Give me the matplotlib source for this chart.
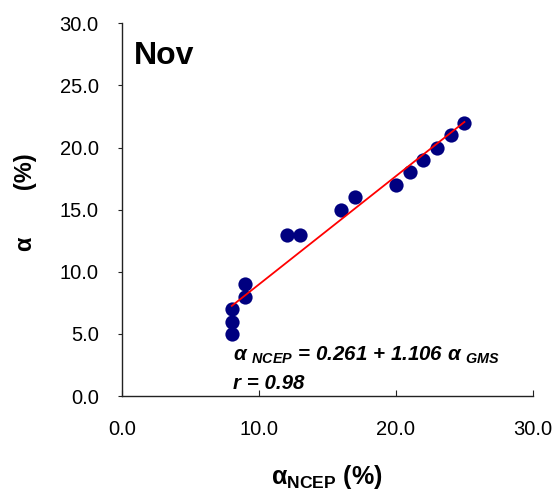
import numpy as np
import matplotlib
matplotlib.use('Agg')
import matplotlib.pyplot as plt

plt.rcParams['font.family'] = ['Liberation Sans', 'DejaVu Sans']
plt.rcParams['mathtext.fontset'] = 'custom'
plt.rcParams['mathtext.rm'] = 'Liberation Sans:bold'
plt.rcParams['mathtext.it'] = 'Liberation Sans:italic:bold'
plt.rcParams['mathtext.bf'] = 'Liberation Sans:bold'

# data
alpha_gms = [8, 8, 8, 9, 9, 12, 13, 16, 17, 20, 21, 22, 23, 24, 25]
alpha_ncep = [5, 6, 7, 8, 9, 13, 13, 15, 16, 17, 18, 19, 20, 21, 22]
ticks = [0, 10, 20, 30]
yticks = [0, 5, 10, 15, 20, 25, 30]

fig = plt.figure(figsize=(5.54, 4.92), dpi=100)
ax = fig.add_axes([0.2208, 0.195, 0.741, 0.7576])

# fit line over the data range
x = np.array(alpha_gms, dtype=float)
y = np.array(alpha_ncep, dtype=float)
k, b = np.polyfit(x, y, 1)
xf = np.array([x.min(), x.max()])
ax.plot(xf, k * xf + b, color='red', lw=1.3, zorder=3)

ax.scatter(x, y, s=105, color='#000080', zorder=2, linewidths=0)

ax.set_xlim(0, 30)
ax.set_ylim(0, 30)
ax.set_xticks(ticks)
ax.set_yticks(yticks)
ax.set_xticklabels(['%.1f' % t for t in ticks])
ax.set_yticklabels(['%.1f' % t for t in yticks])
ax.spines['top'].set_visible(False)
ax.spines['right'].set_visible(False)
for s in ['left', 'bottom']:
    ax.spines[s].set_color('#222222')
    ax.spines[s].set_linewidth(1.0)
ax.tick_params(axis='x', direction='in', length=4, pad=17, labelsize=14.5, color='#222222')
ax.tick_params(axis='y', direction='out', length=3, pad=14, labelsize=14.5, color='#222222')

ax.set_xlabel('α$_{\\mathbf{NCEP}}$ (%)', fontsize=18, fontweight='bold', va='center')
ax.xaxis.set_label_coords(0.498, -0.217)
ax.set_ylabel('α       (%)', fontsize=17, fontweight='bold', va='center')
ax.yaxis.set_label_coords(-0.237, 0.52)

ax.text(0.027, 0.911, 'Nov', transform=ax.transAxes, fontsize=23, fontweight='bold',
        va='center', ha='left')

ax.text(8.1, 2.85, 'α $_{NCEP}$ = 0.261 + 1.106 α $_{GMS}$', fontsize=14.8,
        fontweight='bold', style='italic', ha='left', va='baseline')
ax.text(8.1, 0.6, 'r = 0.98', fontsize=14.8, fontweight='bold', style='italic',
        ha='left', va='baseline')

fig.savefig('out.png', dpi=100)
